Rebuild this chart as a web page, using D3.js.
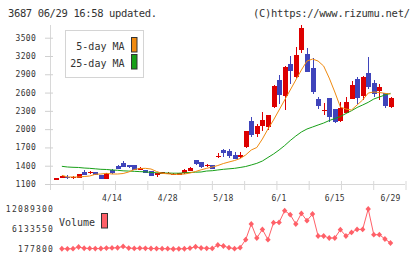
<!DOCTYPE html>
<html><head><meta charset="utf-8">
<script src="https://cdnjs.cloudflare.com/ajax/libs/d3/7.8.5/d3.min.js"></script>
<style>
html,body{margin:0;padding:0;background:#fff;}
svg{display:block;}
text{font-family:"DejaVu Sans Mono",monospace;}
</style></head>
<body><svg id="c" width="420" height="259"></svg>
<script>
const dates = ["3/31","4/1","4/4","4/5","4/6","4/7","4/8","4/11","4/12","4/13","4/14","4/15","4/18","4/19","4/20","4/21","4/22","4/25","4/26","4/27","4/28",
"5/2","5/6","5/9","5/10","5/11","5/12","5/13","5/16","5/17","5/18","5/19","5/20","5/23","5/24","5/25","5/26","5/27","5/30","5/31","6/1",
"6/2","6/3","6/6","6/7","6/8","6/9","6/10","6/13","6/14","6/15","6/16","6/17","6/20","6/21","6/22","6/23","6/24","6/27","6/28","6/29"];
const dateLabels = ["4/14","4/28","5/18","6/1","6/15","6/29"];
const open  = [1187,1198,1215,1203,1203,1302,1285,1297,1253,1182,1325,1400,1444,1412,1412,1351,1330,1313,1243,1277,1282,1253,1253,1275,1318,1494,1456,1400,1412,1543,1658,1641,1581,1543,1712,2133,1920,2051,2040,2368,2806,2543,3068,2855,3303,3232,3002,2494,2292,2510,2330,2138,2264,2494,2822,2548,2925,2756,2630,2592,2358];
const high  = [1198,1236,1243,1236,1266,1330,1313,1300,1255,1280,1346,1405,1477,1415,1415,1379,1333,1315,1278,1302,1297,1280,1280,1351,1384,1497,1460,1428,1415,1608,1674,1674,1620,1620,1975,2194,2079,2276,2240,2724,2888,3035,3199,3347,3708,3330,3166,2532,2433,2515,2333,2440,2532,2789,2860,2865,3188,2806,2740,2595,2532];
const low   = [1187,1198,1187,1187,1200,1248,1269,1246,1185,1180,1269,1340,1380,1370,1330,1330,1282,1233,1220,1259,1269,1243,1246,1272,1315,1407,1362,1379,1348,1526,1543,1526,1505,1526,1695,1876,1871,1974,1986,2351,2412,2314,2740,2838,3253,2937,2576,2330,2232,2112,2100,2122,2260,2490,2412,2478,2663,2522,2478,2351,2351];
const close = [1198,1231,1203,1215,1264,1253,1297,1248,1187,1264,1285,1346,1384,1374,1335,1362,1285,1236,1275,1289,1286,1269,1275,1330,1367,1423,1384,1412,1351,1564,1608,1559,1510,1576,1969,1904,2051,2150,2232,2712,2560,3019,2958,3216,3653,2942,2614,2384,2314,2194,2122,2346,2445,2724,2515,2860,2696,2576,2696,2384,2510];
const ma5  = [null,1243,1215,1215,1215,1223,1231,1259,1264,1275,1264,1264,1272,1297,1338,1354,1357,1346,1305,1275,1267,1259,1259,1264,1280,1305,1333,1357,1379,1403,1436,1461,1485,1518,1576,1658,1699,1838,2002,2150,2314,2478,2642,2806,2970,3117,3150,3117,3035,2838,2609,2363,2330,2314,2396,2478,2592,2609,2601,2587,2576];
const ma25 = [null,1390,1379,1374,1371,1362,1357,1349,1341,1338,1330,1325,1316,1312,1308,1303,1300,1289,1284,1280,1280,1277,1277,1284,1289,1294,1297,1313,1318,1330,1341,1349,1357,1371,1387,1412,1439,1477,1535,1592,1658,1731,1813,1887,1953,2002,2035,2068,2100,2141,2174,2207,2256,2302,2355,2396,2440,2494,2527,2560,2587];
const volume = [null,250000,230000,260000,780000,400000,350000,300000,320000,450000,500000,550000,950000,450000,350000,420000,380000,330000,300000,280000,260000,177800,220000,250000,420000,850000,480000,380000,356000,1369000,1071000,565000,267000,565000,2947000,7622000,3453000,6014000,2947000,8010000,8099000,11583000,10392000,7622000,10779000,8605000,10600000,4049000,4049000,3453000,3453000,5925000,4049000,5121000,6014000,6014000,12089300,4436000,4436000,3156000,1965000];
const priceTicks = [1100,1400,1700,2000,2300,2600,2900,3200,3500];
const volumeTicks = [177800,6133550,12089300];
const seriesNames = ["5-day MA","25-day MA"];

const svg = d3.select("#c");
const UP = "#dd0000", DOWN = "#3f44bb", C5 = "#f08a10", C25 = "#18a018", VOL = "#ff6068";

const x = d3.scalePoint().domain(dates).range([56.3, 390.5]);
const y = d3.scaleLinear().domain([1100, 3500]).range([184, 37.7]);
const yv = d3.scaleLinear().domain([177800, 12089300]).range([249, 209]);
const grid = d3.scaleLinear().domain([0, 11]).range([50, 405]);

// header
svg.append("text").attr("x", 8).attr("y", 16.5).attr("font-size", 10.5).attr("fill", "#333")
  .attr("textLength", 149).text("3687 06/29 16:58 updated.");
svg.append("text").attr("x", 253).attr("y", 16.5).attr("font-size", 10.5).attr("fill", "#333")
  .attr("textLength", 157).text("(C)https://www.rizumu.net/");

// axes lines
svg.append("line").attr("x1", 50.5).attr("x2", 50.5).attr("y1", 25).attr("y2", 190).attr("stroke", "#d8d8d8");
svg.append("line").attr("x1", 50).attr("x2", 405).attr("y1", 184.5).attr("y2", 184.5).attr("stroke", "#d8d8d8");
const gx = svg.append("g").attr("transform", "translate(0,181)")
  .call(d3.axisBottom(grid).tickValues(d3.range(1, 12)).tickSize(9).tickFormat(""));
gx.select(".domain").remove();
gx.selectAll("line").attr("stroke", "#d8d8d8").attr("transform", "translate(0.5,0)");

const gy = svg.append("g").attr("transform", "translate(53,0)")
  .call(d3.axisLeft(y).tickValues(priceTicks).tickSize(8).tickPadding(9).tickFormat(d3.format("d")));
gy.select(".domain").remove();
gy.selectAll("line").attr("stroke", "#d0d0d0");
gy.selectAll("text").attr("font-size", 8).attr("fill", "#333").attr("font-family", "DejaVu Sans Mono").attr("letter-spacing", 0.3);

// candles
const idx = d3.range(dates.length);
const cg = svg.append("g").attr("shape-rendering", "crispEdges");
cg.selectAll("line.w").data(idx).join("line")
  .attr("x1", i => Math.round(x(dates[i])) + 0.5).attr("x2", i => Math.round(x(dates[i])) + 0.5)
  .attr("y1", i => y(high[i])).attr("y2", i => y(low[i]))
  .attr("stroke", i => close[i] >= open[i] ? UP : DOWN);
cg.selectAll("rect.b").data(idx).join("rect")
  .attr("x", i => Math.round(x(dates[i])) - 2)
  .attr("width", 5)
  .attr("y", i => y(Math.max(open[i], close[i])))
  .attr("height", i => Math.max(1.5, Math.abs(y(open[i]) - y(close[i]))))
  .attr("fill", i => close[i] >= open[i] ? UP : DOWN);

// MA lines
const lineGen = arr => d3.line().defined(i => arr[i] != null).x(i => x(dates[i])).y(i => y(arr[i]));
svg.append("path").attr("d", lineGen(ma25)(idx)).attr("fill", "none").attr("stroke", C25).attr("stroke-width", 1);
svg.append("path").attr("d", lineGen(ma5)(idx)).attr("fill", "none").attr("stroke", C5).attr("stroke-width", 1);

// legend
const lg = svg.append("g");
lg.append("rect").attr("x", 65.5).attr("y", 30.5).attr("width", 78).attr("height", 47).attr("fill", "#fff").attr("stroke", "#d4d4d4");
[[C5, 37.5, 46], [C25, 54.5, 63]].forEach((d, k) => {
  lg.append("rect").attr("x", 131.5).attr("y", d[1]).attr("width", 5.5).attr("height", 14.5).attr("fill", d[0]).attr("stroke", "#333");
  lg.append("text").attr("x", 124.5).attr("y", d[2]).attr("dy", "0.35em").attr("text-anchor", "end").attr("font-size", 10).attr("fill", "#333").text(seriesNames[k]);
});

// date labels
svg.selectAll("text.dl").data(dateLabels).join("text").attr("class", "dl")
  .attr("x", d => x(d)).attr("y", 201).attr("text-anchor", "middle").attr("font-size", 8).attr("fill", "#333").attr("letter-spacing", 0.2).text(d => d);

// volume axis labels
const gv = svg.append("g").attr("transform", "translate(54,0)")
  .call(d3.axisLeft(yv).tickValues(volumeTicks).tickSize(0).tickPadding(0).tickFormat(d3.format("d")));
gv.select(".domain").remove();
gv.selectAll("text").attr("font-size", 8).attr("fill", "#333").attr("font-family", "DejaVu Sans Mono").attr("letter-spacing", 1.2);

// volume series
const vidx = idx.filter(i => volume[i] != null);
svg.append("path").attr("d", d3.line().x(i => x(dates[i])).y(i => yv(volume[i]))(vidx))
  .attr("fill", "none").attr("stroke", VOL).attr("stroke-width", 1);
svg.selectAll("path.dm").data(vidx).join("path")
  .attr("d", "M0,-2.9L2.7,0L0,2.9L-2.7,0Z")
  .attr("transform", i => `translate(${x(dates[i])},${yv(volume[i])})`)
  .attr("fill", VOL);

// volume legend
svg.append("text").attr("x", 59).attr("y", 222).attr("dy", "0.35em").attr("font-size", 10).attr("fill", "#333").text("Volume");
svg.append("rect").attr("x", 101.5).attr("y", 213.5).attr("width", 6).attr("height", 14.5).attr("fill", VOL).attr("stroke", "#333");
</script></body></html>
